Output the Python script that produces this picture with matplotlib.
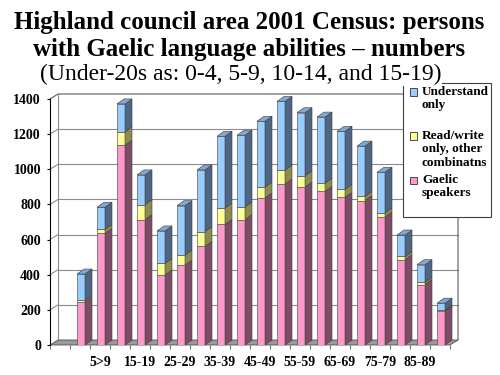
import matplotlib.pyplot as plt
from matplotlib.patches import Polygon, Rectangle
import numpy as np

plt.rcParams['font.family'] = ['Liberation Serif', 'DejaVu Serif']
SERIF = ['Liberation Serif', 'DejaVu Serif']

# age bands (first slot is empty in the original)
cats = ["", "0-4", "5>9", "10-14", "15-19", "20-24", "25-29", "30-34", "35-39", "40-44",
        "45-49", "50-54", "55-59", "60-64", "65-69", "70-74", "75-79", "80-84", "85-89", "90+"]
gaelic = [0, 244, 635, 1137, 714, 399, 455, 562, 686, 714, 837, 916, 899, 874, 840, 822, 728, 485, 344, 194]
readwrite = [0, 10, 23, 76, 85, 65, 58, 83, 94, 72, 62, 80, 64, 47, 47, 24, 24, 19, 13, 3]
understand = [0, 150, 126, 159, 169, 185, 280, 351, 408, 408, 374, 390, 359, 376, 329, 286, 231, 122, 100, 41]
series_names = ["Gaelic\nspeakers", "Read/write\nonly, other\ncombinatns", "Understand\nonly"]

front_col = ['#ff99cc', '#ffff99', '#99ccff']
side_col = ['#7f4c66', '#8c8c4f', '#4f6683']
top_col = ['#cc7aa3', '#cccc7a', '#7fa8d6']

W, H = 500, 375
fig = plt.figure(figsize=(5, 3.75), dpi=100)
ax = fig.add_axes([50 / W, 30 / H, 400 / W, 246 / H])
n = len(cats)
ymax = 1400
ax.set_xlim(0, n)
ax.set_ylim(0, ymax)
px_y = ymax / 246.0          # data units per pixel (y)
px_x = n / 400.0             # data units per pixel (x)
DX, DY = 8 * px_x, 5 * px_y  # wall depth
bdx, bdy = 7 * px_x, 5 * px_y  # bar depth
bw = 8 * px_x
boff = 7 * px_x

grid_c = '#8c8c8c'
wall_c = '#5a5a5a'
kw = dict(clip_on=False, lw=0.8)

# floor
ax.add_patch(Polygon([(0, 0), (n, 0), (n + DX, DY), (DX, DY)], closed=True,
                     fc='#9a9a9a', ec='#505050', lw=0.6, clip_on=False, zorder=1))
# back wall + gridlines
for v in range(200, ymax, 200):
    ax.plot([DX, n + DX], [v + DY, v + DY], color=grid_c, zorder=0.5, **kw)
    ax.plot([0, DX], [v, v + DY], color=grid_c, zorder=0.5, **kw)
ax.plot([0, DX, n + DX, n + DX], [ymax, ymax + DY, ymax + DY, DY], color=wall_c, zorder=0.5, **kw)
ax.plot([DX, DX], [DY, ymax + DY], color=grid_c, zorder=0.5, **kw)

# 3d-look stacked bars
stack = np.array([gaelic, readwrite, understand], dtype=float)
for i in range(n):
    total = stack[:, i].sum()
    if total == 0:
        continue
    x0 = i + boff
    bottom = 0.0
    for s in range(3):
        h = stack[s, i]
        if h <= 0:
            continue
        top = bottom + h
        ax.bar(x0, h, bottom=bottom, width=bw, align='edge', color=front_col[s],
               edgecolor='#3c3c3c', linewidth=0.4, zorder=3)
        ax.add_patch(Polygon([(x0 + bw, bottom), (x0 + bw + bdx, bottom + bdy),
                              (x0 + bw + bdx, top + bdy), (x0 + bw, top)], closed=True,
                             fc=side_col[s], ec='#3c3c3c', lw=0.4, zorder=3, clip_on=False))
        if top >= total - 1e-6:
            ax.add_patch(Polygon([(x0, top), (x0 + bdx, top + bdy), (x0 + bw + bdx, top + bdy),
                                  (x0 + bw, top)], closed=True,
                                 fc=top_col[s], ec='#3c3c3c', lw=0.4, zorder=3, clip_on=False))
        bottom = top

# axes styling
for sp in ['top', 'right', 'bottom']:
    ax.spines[sp].set_visible(False)
ax.spines['left'].set_color('black')
ax.spines['left'].set_linewidth(0.8)
ax.set_yticks(range(0, ymax + 1, 200))
ax.tick_params(axis='y', direction='out', length=2.5, width=0.8, pad=4, labelsize=10)
for t in ax.get_yticklabels():
    t.set_fontweight('bold')
    t.set_family(SERIF)

ax.set_xticks(np.arange(n) + 0.5)
ax.set_xticklabels([c if i % 2 == 0 else "" for i, c in enumerate(cats)],
                   fontsize=10, fontweight='bold', family=SERIF)
ax.set_xticks(np.arange(n + 1), minor=True)
ax.tick_params(axis='x', which='major', length=0, pad=8)
ax.tick_params(axis='x', which='minor', direction='out', length=3, width=0.8, color='#707070')
ax.patch.set_alpha(0)

# titles
fig.text(249 / W, 1 - 29 / H, "Highland council area 2001 Census: persons",
         ha='center', va='baseline', fontsize=18, fontweight='bold', family=SERIF)
fig.text(249 / W, 1 - 56 / H, "with Gaelic language abilities \u2013 numbers",
         ha='center', va='baseline', fontsize=18, fontweight='bold', family=SERIF)
fig.text(241 / W, 1 - 80 / H, "(Under-20s as: 0-4, 5-9, 10-14, and 15-19)",
         ha='center', va='baseline', fontsize=17, zorder=6, family=SERIF,
         bbox=dict(fc='white', ec='none', pad=0.5))

# legend box drawn by hand (handles sit on first line of label)
fig.add_artist(Rectangle((403 / W, 1 - 217 / H), 88 / W, 134 / H, transform=fig.transFigure,
                         fc='white', ec='#404040', lw=0.8, zorder=5))
leg_y = [92, 136, 180]
leg_order = [2, 1, 0]
for k, s in enumerate(leg_order):
    y = leg_y[k]
    fig.add_artist(Rectangle((410 / W, 1 - (y + 3.5) / H), 7 / W, 7 / H, transform=fig.transFigure,
                             fc=front_col[s], ec='#303030', lw=0.6, zorder=6))
    fig.text(422 / W, 1 - (y - 6) / H, series_names[s], ha='left', va='top', family=SERIF,
             fontsize=9.5, fontweight='bold', linespacing=1.15, zorder=7)

fig.savefig('out.png', dpi=100)
